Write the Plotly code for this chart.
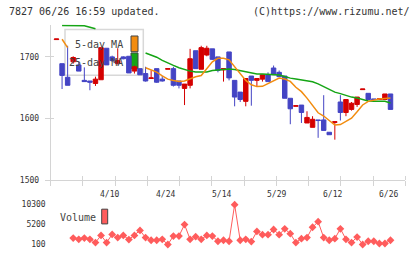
import plotly.graph_objects as go

W, H = 420, 259
FONT = "DejaVu Sans Mono"

# ---------------- data ----------------
dates = ["4/10", "4/24", "5/14", "5/29", "6/12", "6/26"]
date_idx = [10, 20, 30, 40, 50, 60]

opens = [1728, 1689, 1667, 1692, 1687, 1662, 1661, 1657, 1663, 1714,
         1700, 1689, 1700, 1701, 1677, 1681, 1673, 1665, 1681, 1664,
         1680, 1681, 1661, 1649, 1654, 1710, 1680, 1703, 1713, 1700,
         1679, 1708, 1662, 1643, 1628, 1669, 1662, 1664, 1671, 1682,
         1675, 1669, 1633, 1620, 1622, 1593, 1586, 1598, 1598, 1578,
         1594, 1627, 1610, 1615, 1623, 1647, 1641, 1632, 1631, 1631,
         1640]
highs = [1729, 1689, 1718, 1701, 1692, 1683, 1661, 1668, 1715, 1714,
         1702, 1714, 1701, 1701, 1686, 1681, 1684, 1678, 1681, 1669,
         1681, 1684, 1661, 1656, 1713, 1710, 1718, 1718, 1713, 1700,
         1681, 1708, 1662, 1643, 1665, 1669, 1665, 1671, 1675, 1686,
         1678, 1669, 1633, 1621, 1622, 1612, 1604, 1598, 1638, 1578,
         1595, 1638, 1631, 1627, 1635, 1648, 1641, 1632, 1632, 1640,
         1640]
lows = [1728, 1648, 1654, 1689, 1677, 1660, 1646, 1653, 1663, 1687,
        1692, 1688, 1696, 1674, 1673, 1671, 1660, 1665, 1658, 1660,
        1680, 1652, 1649, 1622, 1649, 1681, 1680, 1701, 1695, 1675,
        1660, 1662, 1620, 1627, 1620, 1621, 1652, 1660, 1660, 1671,
        1668, 1633, 1591, 1620, 1593, 1593, 1586, 1569, 1581, 1574,
        1566, 1597, 1604, 1613, 1619, 1647, 1631, 1631, 1631, 1631,
        1615]
closes = [1729, 1670, 1654, 1699, 1677, 1660, 1659, 1664, 1715, 1687,
          1694, 1694, 1697, 1674, 1684, 1671, 1661, 1666, 1659, 1661,
          1681, 1654, 1654, 1656, 1697, 1681, 1715, 1714, 1696, 1678,
          1681, 1666, 1635, 1631, 1665, 1662, 1665, 1671, 1660, 1671,
          1668, 1633, 1616, 1621, 1610, 1602, 1599, 1597, 1581, 1574,
          1595, 1610, 1631, 1625, 1635, 1648, 1631, 1631, 1632, 1640,
          1615]

# 5-day / 25-day moving averages (None = hidden by the legend box)
ma5 = [None, 1728.6, 1715] + [None] * 13 + [
    1682.5, 1679.4, 1675.4, 1669.1, 1664, 1661.9, 1660.3, 1661.1, 1665, 1667.8,
    1669.8, 1681, 1692, 1697.6, 1697.6, 1695.2, 1684.1, 1673, 1661.9, 1654.8,
    1651.9, 1652.4, 1657.1, 1661.9, 1665.9, 1664.3, 1660.3, 1650.8, 1643.7, 1633.3,
    1620.6, 1609.5, 1604.3, 1596.8, 1589.7, 1590.5, 1595.2, 1600.8, 1611.1, 1622.2,
    1628, 1630.2, 1631.7, 1632.5, 1633.3]
ma25 = [None, 1751, 1751, 1751, 1751, 1750.5, 1748, 1745.5] + [None] * 8 + [
    1706.3, 1703.2, 1699.5, 1694.4, 1689.7, 1686.2, 1682.5, 1679.8, 1677, 1675.7,
    1675.7, 1675.4, 1677.8, 1678.9, 1679.4, 1680.2, 1679.4, 1677.8, 1675.7, 1673.8,
    1672.2, 1672.2, 1671.4, 1671, 1670.6, 1668.3, 1665.6, 1664.3, 1662.7, 1661.1,
    1659.8, 1656.3, 1651.6, 1646.8, 1642.9, 1640.5, 1637.3, 1634.9, 1633.3, 1631,
    1628.6, 1628, 1628, 1628, 1625.4]

volume = [None, None, None, 1750, 1430, 1750, 1430, 600, 2430, 600,
          2690, 1860, 2430, 1360, 2430, 3690, 1860, 1180, 1180, 1430,
          100, 2260, 2260, 5200, 1430, 2100, 1430, 2430, 2260, 930,
          1180, 930, 10300, 1180, 1430, 850, 3440, 2610, 2610, 3940,
          2610, 4120, 2860, 600, 1600, 1860, 4520, 5950, 1860, 1180,
          1600, 4120, 1430, 600, 2010, 100, 930, 930, 350, 350,
          1180]

price_ticks = [1500, 1600, 1700]
vol_ticks = [100, 5200, 10300]

idx = list(range(len(closes)))

# ---------------- layout helpers (pixel -> paper) ----------------
def px(x):
    return x / W

def py(y):
    return (H - y) / H

X_RANGE = [-1.042, 62.66]
n_div = 11
step = (X_RANGE[1] - X_RANGE[0]) / n_div
grid = [X_RANGE[0] + k * step for k in range(n_div + 1)]
grid[0] += 0.01
grid[-1] -= 0.01
eps = 1e-4

AX_COL = "#d4d4d4"
RED = "#d40000"
BLUE = "#4444c4"
ORANGE = "#f28c0f"
GREEN = "#15a515"
VOLC = "#ff5c5c"
TXT = "#333333"

fig = go.Figure()

fig.add_trace(go.Scatter(x=idx, y=ma25, mode="lines", line=dict(color=GREEN, width=1.5),
                         connectgaps=False, showlegend=False, hoverinfo="skip",
                         xaxis="x", yaxis="y"))
fig.add_trace(go.Scatter(x=idx, y=ma5, mode="lines", line=dict(color=ORANGE, width=1.5),
                         connectgaps=False, showlegend=False, hoverinfo="skip",
                         xaxis="x", yaxis="y"))
fig.add_trace(go.Candlestick(x=idx, open=opens, high=highs, low=lows, close=closes,
                             increasing=dict(line=dict(color=RED, width=1), fillcolor=RED),
                             decreasing=dict(line=dict(color=BLUE, width=1), fillcolor=BLUE),
                             whiskerwidth=0, showlegend=False, xaxis="x", yaxis="y"))
fig.add_trace(go.Scatter(x=idx, y=volume, mode="lines+markers",
                         line=dict(color=VOLC, width=1),
                         marker=dict(symbol="diamond", size=6, color=VOLC),
                         showlegend=False, xaxis="x2", yaxis="y2"))

x_dom = [px(50.7), px(405.3)]
tickfont = dict(family=FONT, size=8, color=TXT)

fig.update_layout(
    width=W, height=H,
    margin=dict(l=0, r=0, t=0, b=0),
    paper_bgcolor="white",
    plot_bgcolor="rgba(0,0,0,0)",
    boxgap=0.2, boxgroupgap=0,
    showlegend=False,
    xaxis=dict(domain=x_dom, range=X_RANGE, anchor="y",
               showline=True, linecolor=AX_COL, linewidth=1,
               ticks="outside", ticklen=5, tickcolor=AX_COL, tickwidth=1,
               tickmode="array", tickvals=grid, showticklabels=False,
               minor=dict(ticks="inside", ticklen=4, tickcolor=AX_COL, tickwidth=1,
                          tickmode="array", tickvals=[g + eps for g in grid]),
               showgrid=False, zeroline=False,
               rangeslider=dict(visible=False)),
    yaxis=dict(domain=[py(184), py(25)], range=[1500, 1752.4], anchor="x",
               showline=True, linecolor=AX_COL, linewidth=1,
               ticks="outside", ticklen=5, tickcolor=AX_COL, tickwidth=1,
               tickmode="array", tickvals=price_ticks,
               ticktext=[str(v) for v in price_ticks],
               tickfont=tickfont, ticklabelstandoff=4,
               minor=dict(ticks="inside", ticklen=3, tickcolor=AX_COL, tickwidth=1,
                          tickmode="array", tickvals=[v + eps for v in price_ticks]),
               showgrid=False, zeroline=False),
    xaxis2=dict(domain=x_dom, range=X_RANGE, anchor="y2",
                showline=False, ticks="", showticklabels=False,
                showgrid=False, zeroline=False),
    yaxis2=dict(domain=[py(255), py(203)], range=[-1332, 11732], anchor="x2",
                showline=False, ticks="",
                tickmode="array", tickvals=vol_ticks,
                ticktext=[str(v) for v in vol_ticks],
                tickfont=tickfont, ticklabelstandoff=4,
                showgrid=False, zeroline=False),
)

# legend box for price panel (drawn beneath the candles)
shapes = [
    dict(type="rect", xref="paper", yref="paper", layer="below",
         x0=px(65), x1=px(143.3), y0=py(76.7), y1=py(30),
         line=dict(color="#d8d8d8", width=1.5), fillcolor="white"),
    dict(type="rect", xref="paper", yref="paper", layer="below",
         x0=px(131), x1=px(138), y0=py(52.7), y1=py(36.7),
         line=dict(color="#444444", width=1), fillcolor=ORANGE),
    dict(type="rect", xref="paper", yref="paper", layer="below",
         x0=px(131), x1=px(138), y0=py(70), y1=py(54),
         line=dict(color="#444444", width=1), fillcolor=GREEN),
    dict(type="rect", xref="paper", yref="paper", layer="above",
         x0=px(101.7), x1=px(107.7), y0=py(228.3), y1=py(213.3),
         line=dict(color="#444444", width=1), fillcolor=VOLC),
]
fig.update_layout(shapes=shapes)

ann = []
txtfont = dict(family=FONT, size=10, color=TXT)
ann.append(dict(text="7827 06/26 16:59 updated.", xref="paper", yref="paper",
                x=px(7), y=py(12), xanchor="left", yanchor="middle",
                showarrow=False, font=txtfont))
ann.append(dict(text="(C)https://www.rizumu.net/", xref="paper", yref="paper",
                x=px(412), y=py(12), xanchor="right", yanchor="middle",
                showarrow=False, font=txtfont))
ann.append(dict(text="5-day MA", xref="paper", yref="paper",
                x=px(125), y=py(45.5), xanchor="right", yanchor="middle",
                showarrow=False, font=dict(family=FONT, size=10, color="#444444")))
ann.append(dict(text="25-day MA", xref="paper", yref="paper",
                x=px(125), y=py(63.5), xanchor="right", yanchor="middle",
                showarrow=False, font=dict(family=FONT, size=10, color="#444444")))
ann.append(dict(text="Volume", xref="paper", yref="paper",
                x=px(58), y=py(222), xanchor="left", yanchor="middle",
                showarrow=False, font=dict(family=FONT, size=10, color="#444444")))
for d, i in zip(dates, date_idx):
    ann.append(dict(text=d, xref="x", yref="paper", x=i - 0.4, y=py(198.5),
                    xanchor="center", yanchor="middle", showarrow=False,
                    font=tickfont))
fig.update_layout(annotations=ann)

fig.write_html("out.html")
